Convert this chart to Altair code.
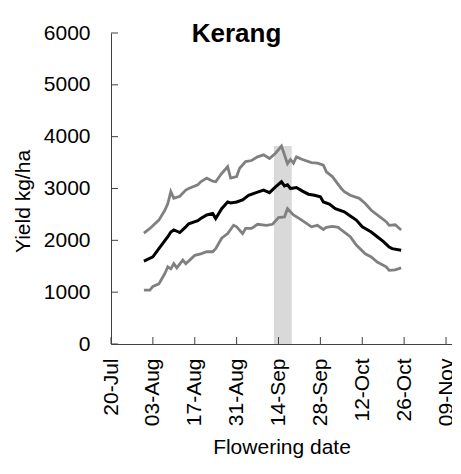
import altair as alt
import pandas as pd

YEAR = 2017

# ---- data ----
upper_dates = ["07-31", "08-02", "08-05", "08-07", "08-08", "08-09", "08-10", "08-12", "08-14", "08-15",
               "08-18", "08-19", "08-21", "08-23", "08-24", "08-26", "08-28", "08-29", "08-31", "09-01",
               "09-03", "09-05", "09-07", "09-09", "09-11", "09-13", "09-15", "09-17", "09-18", "09-19",
               "09-20", "09-22", "09-25", "09-27", "09-29", "09-30", "10-02", "10-05", "10-06", "10-08",
               "10-11", "10-13", "10-15", "10-18", "10-20", "10-21", "10-23", "10-25"]
upper_vals = [2140, 2230, 2390, 2580, 2710, 2940, 2810, 2850, 2970, 3000,
              3070, 3130, 3200, 3140, 3130, 3290, 3420, 3200, 3230, 3390,
              3520, 3540, 3610, 3650, 3580, 3680, 3820, 3480, 3560, 3490,
              3610, 3560, 3500, 3490, 3450, 3320, 3230, 3000, 2940, 2870,
              2810, 2710, 2580, 2450, 2360, 2290, 2300, 2200]

mean_dates = ["07-31", "08-03", "08-05", "08-08", "08-09", "08-10", "08-12", "08-14", "08-15", "08-18",
              "08-19", "08-21", "08-23", "08-24", "08-26", "08-28", "08-29", "08-31", "09-02", "09-04",
              "09-07", "09-09", "09-11", "09-13", "09-15", "09-16", "09-17", "09-18", "09-20", "09-22",
              "09-24", "09-26", "09-28", "09-29", "10-01", "10-03", "10-06", "10-08", "10-10", "10-12",
              "10-15", "10-17", "10-19", "10-21", "10-22", "10-25"]
mean_vals = [1600, 1680, 1840, 2070, 2160, 2200, 2150, 2260, 2320, 2380,
             2420, 2490, 2520, 2420, 2610, 2740, 2720, 2740, 2780, 2870,
             2930, 2970, 2920, 3030, 3130, 3050, 3070, 3000, 3020, 2950,
             2890, 2870, 2840, 2740, 2700, 2610, 2550, 2470, 2390, 2260,
             2160, 2070, 1980, 1870, 1840, 1810]

lower_dates = ["07-31", "08-02", "08-03", "08-05", "08-07", "08-08", "08-09", "08-10", "08-11", "08-13",
               "08-14", "08-17", "08-19", "08-21", "08-23", "08-24", "08-26", "08-28", "08-30", "08-31",
               "09-02", "09-03", "09-05", "09-07", "09-10", "09-12", "09-14", "09-16", "09-17", "09-19",
               "09-21", "09-23", "09-25", "09-27", "09-29", "09-30", "10-02", "10-04", "10-05", "10-08",
               "10-10", "10-13", "10-15", "10-17", "10-20", "10-21", "10-23", "10-25"]
lower_vals = [1040, 1040, 1110, 1160, 1360, 1490, 1450, 1550, 1470, 1620,
              1550, 1710, 1740, 1780, 1780, 1840, 2040, 2130, 2290, 2260,
              2130, 2230, 2230, 2310, 2290, 2310, 2440, 2450, 2610, 2490,
              2420, 2340, 2260, 2290, 2210, 2250, 2270, 2250, 2200, 2070,
              1910, 1740, 1680, 1580, 1490, 1420, 1430, 1470]

band_start = ["2017-09-12T12:00:00Z"]
band_end = ["2017-09-18T10:00:00Z"]
band_top = [3820]

x_tick_dates = ["2017-07-20", "2017-08-03", "2017-08-17", "2017-08-31", "2017-09-14",
                "2017-09-28", "2017-10-12", "2017-10-26", "2017-11-09"]
x_domain = ["2017-07-20", "2017-11-11"]
y_ticks = [0, 1000, 2000, 3000, 4000, 5000, 6000]

# ---- tables ----
def series(dates, vals, name):
    return pd.DataFrame({"date": [f"{YEAR}-{d}" for d in dates], "yield": vals, "series": name})

grey_df = pd.concat([series(upper_dates, upper_vals, "upper"),
                     series(lower_dates, lower_vals, "lower")], ignore_index=True)
mean_df = series(mean_dates, mean_vals, "mean")
band_df = pd.DataFrame({"start": band_start, "end": band_end, "top": band_top, "bottom": [0] * len(band_top)})
xt_df = pd.DataFrame({"date": x_tick_dates})
yt_df = pd.DataFrame({"v": y_ticks})

def ms(d):
    return int(pd.Timestamp(d, tz="UTC").value // 10**6)

W, H = 341, 311
FONT = "Liberation Sans"
AX = "#404040"

x_scale = alt.Scale(type="utc", domain=[ms(d) for d in x_domain], nice=False)
y_scale = alt.Scale(domain=[0, 6000], nice=False)

x_axis = alt.Axis(values=[ms(d) for d in x_tick_dates], labelExpr="utcFormat(datum.value, '%d-%b')",
                  labelAngle=270, labelAlign="right", labelBaseline="middle", labelPadding=14,
                  ticks=False, tickSize=0, grid=False, domainColor=AX, labelFontSize=21,
                  labelColor="#000", title="Flowering date", titleFontSize=21, titleFontWeight="normal",
                  titleColor="#000", titleBaseline="alphabetic", titleY=109, labelOverlap=False, labelFlush=False)
y_axis = alt.Axis(values=y_ticks, format="d", ticks=False, tickSize=0, labelPadding=21, grid=False, domainColor=AX,
                  labelFontSize=21, labelColor="#000", title="Yield kg/ha", titleFontSize=21,
                  titleFontWeight="normal", titleColor="#000", titleAngle=270, titleAlign="center",
                  titleBaseline="alphabetic", titleX=-81.5, titleY=168, labelFlush=False, labelOverlap=False)

band = alt.Chart(band_df).mark_rect(color="#d9d9d9").encode(
    x=alt.X("start:T", scale=x_scale, axis=x_axis),
    x2="end:T",
    y=alt.Y("bottom:Q", scale=y_scale, axis=y_axis),
    y2="top:Q",
)

grey = alt.Chart(grey_df).mark_line(color="#808080", strokeWidth=2.8).encode(
    x=alt.X("date:T", scale=x_scale),
    y=alt.Y("yield:Q", scale=y_scale),
    detail="series:N",
)

mean = alt.Chart(mean_df).mark_line(color="#000000", strokeWidth=3).encode(
    x=alt.X("date:T", scale=x_scale),
    y=alt.Y("yield:Q", scale=y_scale),
)

xticks = alt.Chart(xt_df).mark_rule(color=AX, strokeWidth=1).encode(
    x=alt.X("date:T", scale=x_scale),
    y=alt.value(H),
    y2=alt.value(H - 7),
)

yticks = alt.Chart(yt_df).mark_rule(color=AX, strokeWidth=1).encode(
    y=alt.Y("v:Q", scale=y_scale),
    x=alt.value(0),
    x2=alt.value(7),
)

chart = alt.layer(band, grey, mean, xticks, yticks).properties(
    width=W,
    height=H,
    title=alt.TitleParams(text="Kerang", font=FONT, fontSize=26, fontWeight="bold", color="#000",
                          anchor="middle", frame="group", dx=-45, offset=0, baseline="alphabetic", dy=46),
    autosize=alt.AutoSizeParams(type="none"),
    padding={"left": 103, "top": 25, "right": 0, "bottom": 118},
).configure(font=FONT).configure_view(stroke=None).configure_axis(labelFont=FONT, titleFont=FONT)

chart.save("out.html", embed_options={"renderer": "svg", "actions": False})
